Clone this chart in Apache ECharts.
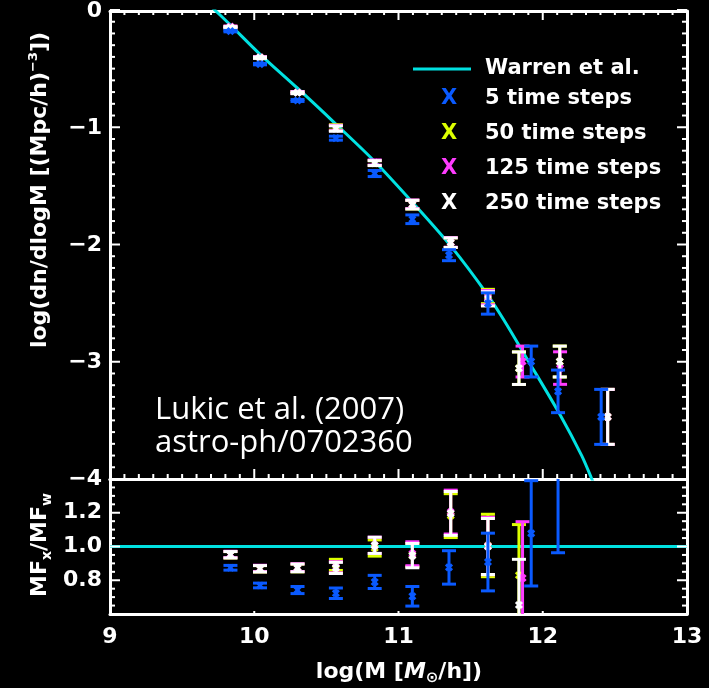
<!DOCTYPE html>
<html>
<head>
<meta charset="utf-8">
<script src="https://cdn.jsdelivr.net/npm/echarts@6/dist/echarts.min.js"></script>
<style>
  html, body { margin: 0; padding: 0; background: #000; }
  #chart { width: 709px; height: 688px; }
</style>
</head>
<body>
<div id="chart"></div>
<script>
// ---- Warren et al. fit (log mass function) ----
const warrenLogM = [9.70, 9.734, 9.835, 10.04, 10.30, 10.56, 10.83, 11.10, 11.37, 11.62, 11.74, 11.88, 12.12, 12.27, 12.34, 12.38];
const warrenLogN = [0.04, 0.0, -0.12, -0.37, -0.66, -0.96, -1.28, -1.64, -2.02, -2.43, -2.66, -2.95, -3.45, -3.80, -4.0, -4.12];
// reference line in the ratio panel
const ratioLineX = [9, 13];
const ratioLineY = [1, 1];

// ---- 5 time steps ----
const logM5   = [9.835, 10.04, 10.30, 10.566, 10.835, 11.096, 11.35, 11.62, 11.92, 12.106, 12.405];
const logN5   = [-0.172, -0.454, -0.765, -1.087, -1.389, -1.78, -2.087, -2.50, -2.996, -3.251, -3.469];
const errN5   = [0.006, 0.006, 0.008, 0.017, 0.026, 0.037, 0.047, 0.091, 0.132, 0.182, 0.235];
const ratio5  = [0.874, 0.769, 0.742, 0.723, 0.790, 0.705, 0.876, 0.908, 1.078, 1.55, 6.0];
const errR5   = [0.014, 0.014, 0.021, 0.031, 0.039, 0.058, 0.099, 0.171, 0.312, 0.587, 3.0];

// ---- 50 time steps ----
const logM50  = [9.835, 10.04, 10.30, 10.566, 10.835, 11.096, 11.362, 11.62, 11.835, 12.118, 12.45];
const logN50  = [-0.137, -0.397, -0.697, -0.995, -1.30, -1.655, -1.98, -2.44, -3.053, -2.996, -3.469];
const errN50  = [0.006, 0.006, 0.008, 0.023, 0.021, 0.037, 0.041, 0.061, 0.139, 0.132, 0.235];
const ratio50 = [0.951, 0.868, 0.873, 0.891, 0.991, 0.950, 1.183, 1.006, 0.83, 2.8, 6.8];
const errR50  = [0.019, 0.019, 0.023, 0.033, 0.048, 0.069, 0.130, 0.185, 0.30, 0.9, 3.0];

// ---- 125 time steps ----
const logM125  = [9.835, 10.04, 10.30, 10.566, 10.835, 11.096, 11.362, 11.62, 11.86, 12.12, 12.45];
const logN125  = [-0.134, -0.396, -0.696, -1.0, -1.295, -1.652, -1.978, -2.45, -2.996, -3.052, -3.469];
const errN125  = [0.006, 0.006, 0.008, 0.023, 0.022, 0.037, 0.041, 0.061, 0.132, 0.139, 0.235];
const ratio125 = [0.953, 0.870, 0.875, 0.877, 1.007, 0.957, 1.204, 1.003, 0.813, 2.45, 6.8];
const errR125  = [0.019, 0.019, 0.023, 0.033, 0.048, 0.071, 0.130, 0.170, 0.334, 0.8, 3.0];

// ---- 250 time steps ----
const logM250  = [9.835, 10.04, 10.30, 10.566, 10.835, 11.096, 11.362, 11.62, 11.835, 12.118, 12.45];
const logN250  = [-0.139, -0.399, -0.699, -1.005, -1.30, -1.655, -1.98, -2.46, -3.053, -2.996, -3.469];
const errN250  = [0.006, 0.006, 0.008, 0.023, 0.021, 0.037, 0.041, 0.061, 0.139, 0.132, 0.235];
const ratio250 = [0.951, 0.868, 0.873, 0.873, 1.007, 0.946, 1.196, 1.0, 0.653, 2.8, 6.8];
const errR250  = [0.019, 0.019, 0.023, 0.033, 0.048, 0.072, 0.130, 0.166, 0.271, 0.9, 3.0];

// axis ranges and tick spacing
const xTicks = [9, 10, 11, 12, 13];
const xMinorStep = 0.1;
const topYMin = -4, topYMax = 0, topYStep = 1, topYMinorStep = 0.1;
const botYMin = 0.6, botYMax = 1.4, botYStep = 0.2, botYMinorStep = 0.05;

const runs = [
  { name: '50 time steps',  color: '#ddff00', m: logM50,  n: logN50,  en: errN50,  r: ratio50,  er: errR50 },
  { name: '125 time steps', color: '#ff3cff', m: logM125, n: logN125, en: errN125, r: ratio125, er: errR125 },
  { name: '250 time steps', color: '#ffffff', m: logM250, n: logN250, en: errN250, r: ratio250, er: errR250 },
  { name: '5 time steps',   color: '#0a5aff', m: logM5,   n: logN5,   en: errN5,   r: ratio5,   er: errR5 }
];

const WARREN = '#00e1e1';
const FONT = 'DejaVu Sans';
const W = 709;
const GRID_LEFT = 110, GRID_RIGHT = 22;
const TOP_PANEL = { top: 10, height: 469 };
const LOW_PANEL = { top: 479, height: 135 };

function zip3(a, b, c) { return a.map((v, i) => [v, b[i], c[i]]); }

// capped error bar with an "x" marker at the centre
function errBar(color) {
  return function (params, api) {
    const x = api.value(0), y = api.value(1), e = api.value(2);
    const c = api.coord([x, y]);
    const t = api.coord([x, y + e]);
    const b = api.coord([x, y - e]);
    const hw = 7, m = 3;
    const st = { stroke: color, lineWidth: 3 };
    return {
      type: 'group',
      children: [
        { type: 'line', shape: { x1: c[0], y1: t[1], x2: c[0], y2: b[1] }, style: st },
        { type: 'line', shape: { x1: c[0] - hw, y1: t[1], x2: c[0] + hw, y2: t[1] }, style: st },
        { type: 'line', shape: { x1: c[0] - hw, y1: b[1], x2: c[0] + hw, y2: b[1] }, style: st },
        { type: 'line', shape: { x1: c[0] - m, y1: c[1] - m, x2: c[0] + m, y2: c[1] + m }, style: st },
        { type: 'line', shape: { x1: c[0] - m, y1: c[1] + m, x2: c[0] + m, y2: c[1] - m }, style: st }
      ]
    };
  };
}

function frameLine() { return { show: true, onZero: false, lineStyle: { color: '#fff', width: 3 } }; }

function xAxisDef(grid, pos, opts) {
  return Object.assign({
    type: 'value', gridIndex: grid, position: pos,
    min: xTicks[0], max: xTicks[xTicks.length - 1], interval: 1,
    axisLine: frameLine(),
    axisTick: { show: false }, minorTick: { show: false },
    axisLabel: { show: false },
    splitLine: { show: false }, minorSplitLine: { show: false }
  }, opts || {});
}

function yAxisDef(grid, pos, min, max, step, opts) {
  return Object.assign({
    type: 'value', gridIndex: grid, position: pos,
    min: min, max: max, interval: step,
    axisLine: frameLine(),
    axisTick: { show: false }, minorTick: { show: false },
    axisLabel: { show: false },
    splitLine: { show: false }, minorSplitLine: { show: false }
  }, opts || {});
}

function labelStyle(extra) {
  return Object.assign({ show: true, color: '#fff', fontFamily: FONT, fontWeight: 'bold', fontSize: 22 }, extra);
}

// ---- frame ticks: short inward white strokes along every panel edge ----
function stepValues(min, max, step) {
  const out = [];
  const n = Math.round((max - min) / step);
  for (let i = 0; i <= n; i++) out.push(+(min + i * step).toFixed(6));
  return out;
}
function isMajor(v, base, step) {
  const k = (v - base) / step;
  return Math.abs(k - Math.round(k)) < 1e-6;
}
const xLo = xTicks[0], xHi = xTicks[xTicks.length - 1];
const xP0 = GRID_LEFT, xP1 = W - GRID_RIGHT;
const px = v => xP0 + (v - xLo) / (xHi - xLo) * (xP1 - xP0);
const pyTop = v => TOP_PANEL.top + (topYMax - v) / (topYMax - topYMin) * TOP_PANEL.height;
const pyLow = v => LOW_PANEL.top + (botYMax - v) / (botYMax - botYMin) * LOW_PANEL.height;

const tickGraphics = [];
function seg(x1, y1, x2, y2) {
  tickGraphics.push({
    type: 'line', z: 100, silent: true,
    shape: { x1: x1, y1: y1, x2: x2, y2: y2 },
    style: { stroke: '#ffffff', lineWidth: 2 }
  });
}
function hTicks(y, dir, majorLen, minorLen) {
  stepValues(xLo, xHi, xMinorStep).forEach(v => {
    const len = isMajor(v, xLo, 1) ? majorLen : minorLen;
    if (!len) return;
    const x = px(v);
    seg(x, y, x, y + dir * len);
  });
}
function vTicks(x, pyFn, min, max, step, minorStep, dir) {
  stepValues(min, max, minorStep).forEach(v => {
    const len = isMajor(v, min, step) ? 10 : 5;
    const y = pyFn(v);
    seg(x, y, x + dir * len, y);
  });
}
// upper panel
hTicks(pyTop(topYMax), 1, 10, 5);
hTicks(pyTop(topYMin), -1, 10, 5);
vTicks(px(xLo), pyTop, topYMin, topYMax, topYStep, topYMinorStep, 1);
vTicks(px(xHi), pyTop, topYMin, topYMax, topYStep, topYMinorStep, -1);
// lower panel
hTicks(pyLow(botYMin), -1, 3, 0);
vTicks(px(xLo), pyLow, botYMin, botYMax, botYStep, botYMinorStep, 1);
vTicks(px(xHi), pyLow, botYMin, botYMax, botYStep, botYMinorStep, -1);

const series = [];
// Warren fit, upper panel
series.push({
  type: 'line', name: 'Warren et al.', xAxisIndex: 0, yAxisIndex: 0,
  data: warrenLogM.map((v, i) => [v, warrenLogN[i]]),
  showSymbol: false, smooth: 0.3, clip: true,
  lineStyle: { color: WARREN, width: 3 }, z: 2
});
// unity line, lower panel
series.push({
  type: 'line', name: 'Warren ratio', xAxisIndex: 2, yAxisIndex: 2,
  data: ratioLineX.map((v, i) => [v, ratioLineY[i]]),
  showSymbol: false, clip: true,
  lineStyle: { color: WARREN, width: 3 }, z: 2
});
runs.forEach((r, k) => {
  series.push({
    type: 'custom', name: r.name, xAxisIndex: 0, yAxisIndex: 0, clip: true,
    renderItem: errBar(r.color), data: zip3(r.m, r.n, r.en),
    encode: { x: 0, y: 1 }, z: 3 + k
  });
  series.push({
    type: 'custom', name: r.name + ' ratio', xAxisIndex: 2, yAxisIndex: 2, clip: true,
    renderItem: errBar(r.color), data: zip3(r.m, r.r, r.er),
    encode: { x: 0, y: 1 }, z: 3 + k
  });
});

// legend, drawn as graphic rows
const legendRows = [
  { label: '5 time steps',   color: '#0a5aff' },
  { label: '50 time steps',  color: '#ddff00' },
  { label: '125 time steps', color: '#ff3cff' },
  { label: '250 time steps', color: '#ffffff' }
];
const legendGraphics = [
  { type: 'line', shape: { x1: 413, y1: 69, x2: 471, y2: 69 }, style: { stroke: WARREN, lineWidth: 3 } },
  { type: 'text', x: 485, y: 69, style: { text: 'Warren et al.', fill: '#fff', font: 'bold 21px ' + FONT, verticalAlign: 'middle' } }
];
legendRows.forEach((row, i) => {
  const y = 99 + i * 35;
  legendGraphics.push({ type: 'text', x: 449, y: y, style: { text: 'X', fill: row.color, font: 'bold 21px ' + FONT, align: 'center', verticalAlign: 'middle' } });
  legendGraphics.push({ type: 'text', x: 485, y: y, style: { text: row.label, fill: '#fff', font: 'bold 21px ' + FONT, verticalAlign: 'middle' } });
});

const textGraphics = [
  // y-axis title, upper panel
  {
    type: 'text', x: 40, y: 190, rotation: Math.PI / 2,
    style: {
      text: '{a|log(dn/dlogM [(Mpc/h)}{s|\u22123}{a|])}',
      align: 'center', verticalAlign: 'middle',
      rich: {
        a: { fill: '#fff', fontFamily: FONT, fontWeight: 'bold', fontSize: 22, lineHeight: 26 },
        s: { fill: '#fff', fontFamily: FONT, fontWeight: 'bold', fontSize: 13, lineHeight: 26, verticalAlign: 'top' }
      }
    }
  },
  // y-axis title, lower panel
  {
    type: 'text', x: 40, y: 545, rotation: Math.PI / 2,
    style: {
      text: '{a|MF}{b|x}{a|/MF}{b|w}',
      align: 'center', verticalAlign: 'middle',
      rich: {
        a: { fill: '#fff', fontFamily: FONT, fontWeight: 'bold', fontSize: 22, lineHeight: 28 },
        b: { fill: '#fff', fontFamily: FONT, fontWeight: 'bold', fontSize: 14, lineHeight: 28, verticalAlign: 'bottom' }
      }
    }
  },
  // x-axis title
  {
    type: 'text', x: 399, y: 672,
    style: {
      text: '{a|log(M [}{i|M}{o|\u2299}{a|/h])}',
      align: 'center', verticalAlign: 'middle',
      rich: {
        a: { fill: '#fff', fontFamily: FONT, fontWeight: 'bold', fontSize: 22, lineHeight: 28 },
        i: { fill: '#fff', fontFamily: FONT, fontWeight: 'bold', fontStyle: 'italic', fontSize: 22, lineHeight: 28 },
        o: { fill: '#fff', fontFamily: FONT, fontWeight: 'bold', fontSize: 15, lineHeight: 28, verticalAlign: 'bottom' }
      }
    }
  },
  // citation
  { type: 'text', x: 155, y: 410, style: { text: 'Lukic et al. (2007)', fill: '#fff', font: '31px "Open Sans"', verticalAlign: 'middle' } },
  { type: 'text', x: 155, y: 443, style: { text: 'astro-ph/0702360', fill: '#fff', font: '31px "Open Sans"', verticalAlign: 'middle' } }
];

const option = {
  backgroundColor: '#000',
  animation: false,
  grid: [
    { left: GRID_LEFT, right: GRID_RIGHT, top: TOP_PANEL.top, height: TOP_PANEL.height },
    { left: GRID_LEFT, right: GRID_RIGHT, top: LOW_PANEL.top, height: LOW_PANEL.height }
  ],
  xAxis: [
    xAxisDef(0, 'bottom'),
    xAxisDef(0, 'top'),
    xAxisDef(1, 'bottom', { axisLabel: labelStyle({ margin: 12 }) }),
    xAxisDef(1, 'top')
  ],
  yAxis: [
    yAxisDef(0, 'left', topYMin, topYMax, topYStep, {
      axisLabel: labelStyle({
        margin: 8,
        formatter: v => (v < 0 ? '\u2212' + Math.abs(v) : String(v))
      })
    }),
    yAxisDef(0, 'right', topYMin, topYMax, topYStep),
    yAxisDef(1, 'left', botYMin, botYMax, botYStep, {
      axisLabel: labelStyle({
        margin: 8, showMinLabel: false, showMaxLabel: false,
        formatter: v => v.toFixed(1)
      })
    }),
    yAxisDef(1, 'right', botYMin, botYMax, botYStep)
  ],
  series: series,
  // ticks first, then titles, citation and legend
  graphic: { elements: tickGraphics.concat(textGraphics, legendGraphics) }
};

const chart = echarts.init(document.getElementById('chart'));
chart.setOption(option);
</script>
</body>
</html>
